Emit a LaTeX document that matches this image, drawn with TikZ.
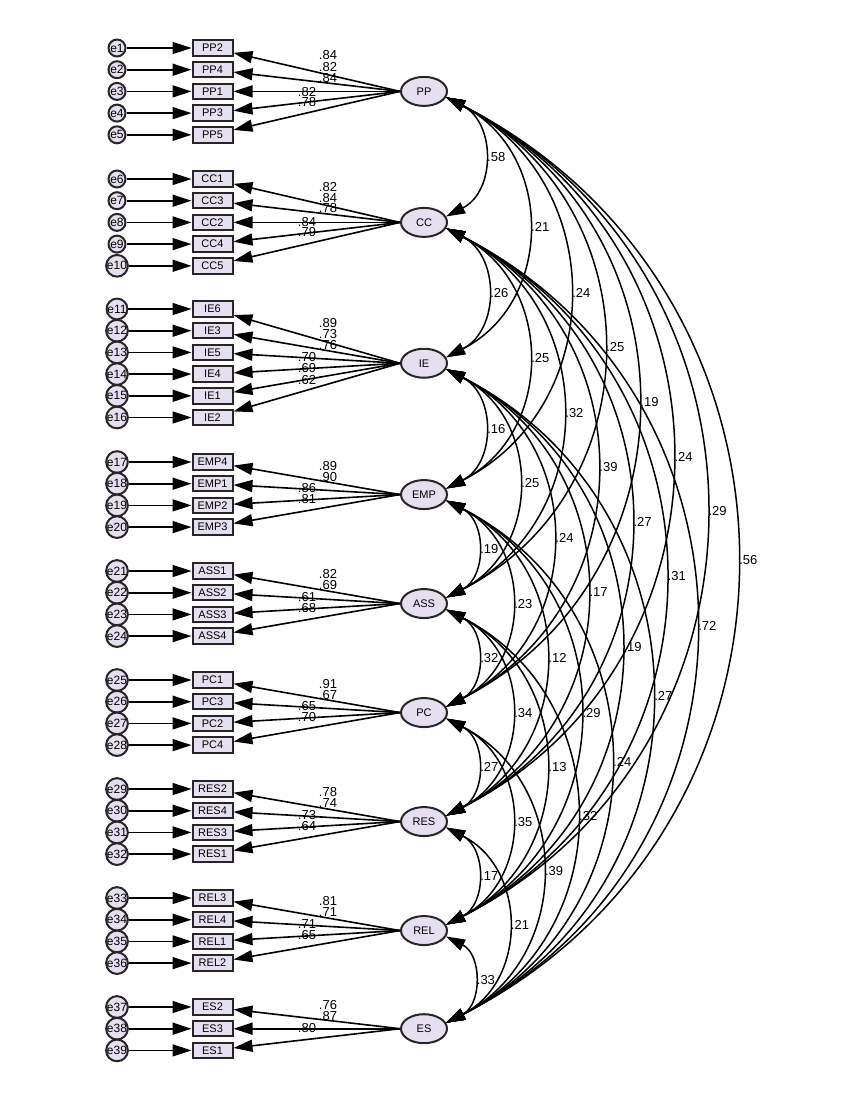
\documentclass[tikz,border=0pt]{standalone}
\usepackage{fontspec}
\setmainfont{Liberation Sans}
\usetikzlibrary{arrows.meta,shapes.geometric}
\definecolor{lav}{HTML}{E6DFF0}
\definecolor{rim}{HTML}{262626}

\begin{document}
\begin{tikzpicture}[x=1pt, y=-1pt, >={Triangle[length=19pt,width=12pt]},
  every node/.style={font=\fontsize{13}{13}\selectfont},
  ind/.style={draw=rim, line width=2pt, fill=lav, minimum width=40pt, minimum height=15.5pt,
    inner sep=0pt, font=\fontsize{11}{11}\selectfont},
  lat/.style={ellipse, draw=rim, line width=2pt, fill=lav, minimum width=46pt,
    minimum height=29pt, inner sep=0pt, font=\fontsize{11}{11}\selectfont},
  err/.style={circle, draw=rim, line width=2pt, fill=lav, minimum size=17pt, inner sep=0pt,
    font=\fontsize{12}{12}\selectfont},
  load/.style={->, line width=1.6pt}, cov/.style={<->, line width=1.5pt},
  num/.style={inner sep=0pt}]
  \useasboundingbox (0,0) rectangle (850,1100);
  % measurement blocks: latent, its indicators and their error terms
  \foreach \lat/\ytop/\efirst/\nn/\items in {
      PP/48/1/5/{PP2,PP4,PP1,PP3,PP5},
      CC/179/6/5/{CC1,CC3,CC2,CC4,CC5},
      IE/309/11/6/{IE6,IE3,IE5,IE4,IE1,IE2},
      EMP/462/17/4/{EMP4,EMP1,EMP2,EMP3},
      ASS/571/21/4/{ASS1,ASS2,ASS3,ASS4},
      PC/680/25/4/{PC1,PC3,PC2,PC4},
      RES/789/29/4/{RES2,RES4,RES3,RES1},
      REL/898/33/4/{REL3,REL4,REL1,REL2},
      ES/1007/37/3/{ES2,ES3,ES1}} {
    \pgfmathsetmacro{\ymid}{\ytop+21.7*(\nn-1)/2}
    \node[lat] (\lat) at (424,\ymid) {\lat};
    \foreach \obs [count=\k from 0] in \items {
      \pgfmathtruncatemacro{\en}{\efirst+\k}
      \node[ind] (\obs) at (212.5,\ytop+21.7*\k) {\obs};
      \node[err] (e\en) at (117,\ytop+21.7*\k) {e\en};
      \draw[load] (e\en) -- (\obs);
      \draw[load] (\lat.west) -- (\obs);
    }
  }
  % standardised loadings
  \foreach \x/\y/\v [count=\i] in {
      328/55/.84, 328/67/.82, 328/78/.84, 307/92/.82, 307/102/.78,
      328/187/.82, 328/198/.84, 328/208/.78, 307/222/.84, 307/232/.79,
      328/323/.89, 328/334/.73, 328/345/.76, 307/357/.70, 307/368/.69, 307/380/.62,
      328/466/.89, 328/477/.90, 307/488/.86, 307/499/.81,
      328/574/.82, 328/585/.69, 307/597/.61, 307/608/.68,
      328/684/.91, 328/695/.67, 307/706/.65, 307/717/.70,
      328/792/.78, 328/803/.74, 307/815/.73, 307/826/.64,
      328/901/.81, 328/912/.71, 307/924/.71, 307/935/.65,
      328/1005/.76, 328/1016/.87, 307/1028/.80}
    \node[num] (w\i) at (\x,\y) {\v};
  % correlations between the latents
  \foreach \a/\b/\v [count=\i] in {
      PP/CC/.58, PP/IE/.21, PP/EMP/.24, PP/ASS/.25, PP/PC/.19, PP/RES/.24, PP/REL/.29, PP/ES/.56,
      CC/IE/.26, CC/EMP/.25, CC/ASS/.32, CC/PC/.39, CC/RES/.27, CC/REL/.31, CC/ES/.72,
      IE/EMP/.16, IE/ASS/.25, IE/PC/.24, IE/RES/.17, IE/REL/.19, IE/ES/.27,
      EMP/ASS/.19, EMP/PC/.23, EMP/RES/.12, EMP/REL/.29, EMP/ES/.24,
      ASS/PC/.32, ASS/RES/.34, ASS/REL/.13, ASS/ES/.32,
      PC/RES/.27, PC/REL/.35, PC/ES/.39,
      RES/REL/.17, RES/ES/.21,
      REL/ES/.33}
    \draw[cov] (\a.-15) to[out=-27, in=27, looseness=1.2]
      node[midway, right, num, xshift=3pt] (r\i) {\v} (\b.15);
\end{tikzpicture}
\end{document}
